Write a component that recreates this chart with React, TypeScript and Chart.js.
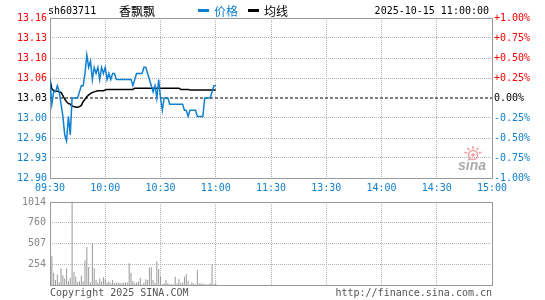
import { useEffect, useRef } from 'react';
import { Chart, registerables } from 'chart.js';
Chart.register(...registerables);

const STOCK_CODE = 'sh603711';
const STOCK_NAME = '香飘飘';
const LEGEND_PRICE = '价格';
const LEGEND_AVG = '均线';
const DATETIME = '2025-10-15 11:00:00';
const COPYRIGHT = 'Copyright 2025 SINA.COM';
const SITE = 'http://finance.sina.com.cn';
const PREV_CLOSE = 13.03;

const TIME_TICKS = [0, 30, 60, 90, 120, 150, 180, 210, 240];
const TIME_LABELS = ['09:30', '10:00', '10:30', '11:00', '11:30', '13:30', '14:00', '14:30', '15:00'];
const PCT_STEPS = [-1, -0.75, -0.5, -0.25, 0, 0.25, 0.5, 0.75, 1];
const PRICE_LABELS = ['12.90', '12.93', '12.96', '13.00', '13.03', '13.06', '13.10', '13.13', '13.16'];
const PCT_LABELS = ['-1.00%', '-0.75%', '-0.50%', '-0.25%', '0.00%', '+0.25%', '+0.50%', '+0.75%', '+1.00%'];
const VOL_MAX = 1014;
const VOL_TICKS = [253.5, 507, 760.5, 1014];
const VOL_LABELS = ['254', '507', '760', '1014'];

const PRICES = [
  13.06, 13.02, 13.04, 13.04, 13.05, 13.04, 13.02, 13.00, 12.97, 12.96,
  13.00, 12.97, 13.03, 13.03, 13.03, 13.03, 13.04, 13.05, 13.05, 13.07,
  13.10, 13.08, 13.09, 13.06, 13.08, 13.07, 13.08, 13.06, 13.08, 13.07,
  13.08, 13.06, 13.07, 13.06, 13.07, 13.07, 13.06, 13.06, 13.06, 13.06,
  13.06, 13.06, 13.06, 13.06, 13.06, 13.05, 13.06, 13.07, 13.07, 13.07,
  13.07, 13.08, 13.08, 13.07, 13.06, 13.05, 13.04, 13.05, 13.03, 13.06,
  13.03, 13.01, 13.03, 13.03, 13.03, 13.02, 13.02, 13.02, 13.02, 13.02,
  13.02, 13.02, 13.02, 13.01, 13.01, 13.00, 13.01, 13.01, 13.01, 13.01,
  13.00, 13.00, 13.00, 13.00, 13.03, 13.03, 13.03, 13.03, 13.04, 13.05,
  13.05,
];

const AVG_PRICES = [
  13.060, 13.045, 13.042, 13.041, 13.041, 13.040, 13.039, 13.034, 13.028, 13.024,
  13.021, 13.020, 13.017, 13.016, 13.015, 13.015, 13.016, 13.018, 13.024, 13.028,
  13.032, 13.035, 13.037, 13.039, 13.040, 13.041, 13.042, 13.042, 13.042, 13.042,
  13.043, 13.044, 13.044, 13.044, 13.044, 13.044, 13.044, 13.044, 13.044, 13.044,
  13.044, 13.044, 13.044, 13.044, 13.044, 13.044, 13.046, 13.046, 13.046, 13.046,
  13.046, 13.046, 13.046, 13.046, 13.046, 13.046, 13.046, 13.046, 13.046, 13.046,
  13.046, 13.046, 13.046, 13.046, 13.046, 13.046, 13.046, 13.046, 13.046, 13.046,
  13.046, 13.044, 13.044, 13.044, 13.044, 13.044, 13.043, 13.043, 13.043, 13.043,
  13.043, 13.043, 13.043, 13.043, 13.043, 13.043, 13.043, 13.043, 13.043, 13.043,
  13.043,
];

const VOLUMES = [
  30, 350, 150, 60, 125, 35, 205, 120, 80, 205,
  50, 90, 1014, 160, 100, 35, 45, 115, 45, 300,
  465, 220, 30, 505, 205, 60, 30, 80, 45, 95,
  70, 30, 45, 25, 60, 25, 30, 30, 25, 20,
  30, 30, 30, 265, 150, 50, 20, 30, 40, 90,
  10, 30, 70, 60, 210, 220, 60, 20, 290, 195,
  100, 10, 20, 60, 20, 10, 10, 5, 100, 20,
  70, 20, 30, 100, 130, 50, 10, 30, 20, 10,
  180, 20, 20, 15, 10, 10, 10, 20, 250, 10,
  20,
];

const MONO = "'DejaVu Sans Mono', 'Liberation Mono', monospace";
const CJK = "'Noto Sans CJK SC', sans-serif";
const BLUE = '#1080d0';
const RED = '#ff0000';
const GRID = '#b4b4b4';
const FRAME = '#999999';
const VOL_GRAY = '#999999';

const LOW = PREV_CLOSE * (1 + PCT_STEPS[0] / 100);
const HIGH = PREV_CLOSE * (1 + PCT_STEPS[PCT_STEPS.length - 1] / 100);

const framePlugin = {
  id: 'frame',
  beforeDatasetsDraw(chart: any) {
    const { ctx, chartArea: a } = chart;
    ctx.save();
    ctx.strokeStyle = FRAME;
    ctx.lineWidth = 1;
    ctx.strokeRect(a.left + 0.5, a.top + 0.5, a.right - a.left, a.bottom - a.top);
    ctx.restore();
  },
};

const headerPlugin = {
  id: 'header',
  afterDraw(chart: any) {
    const ctx = chart.ctx;
    ctx.save();
    ctx.textBaseline = 'middle';
    ctx.fillStyle = '#000';
    ctx.font = `10px ${MONO}`;
    ctx.textAlign = 'left';
    ctx.fillText(STOCK_CODE, 48, 11);
    ctx.font = `12px ${CJK}`;
    ctx.fillText(STOCK_NAME, 119, 11);
    ctx.fillStyle = BLUE;
    ctx.fillRect(198, 9, 11, 3);
    ctx.fillText(LEGEND_PRICE, 214, 11);
    ctx.fillStyle = '#000';
    ctx.fillRect(248, 9, 11, 3);
    ctx.fillText(LEGEND_AVG, 264, 11);
    ctx.font = `10px ${MONO}`;
    ctx.textAlign = 'right';
    ctx.fillText(DATETIME, 489, 11);
    ctx.restore();
  },
};

const watermarkPlugin = {
  id: 'watermark',
  beforeDatasetsDraw(chart: any) {
    const ctx = chart.ctx;
    ctx.save();
    ctx.strokeStyle = 'rgba(225,80,80,0.55)';
    ctx.fillStyle = 'rgba(225,80,80,0.55)';
    ctx.lineWidth = 1.5;
    ctx.beginPath();
    ctx.arc(473, 155, 4.5, 0, Math.PI * 2);
    ctx.stroke();
    ctx.beginPath();
    ctx.arc(473, 155, 1.8, 0, Math.PI * 2);
    ctx.fill();
    for (let k = 0; k < 5; k++) {
      const ang = Math.PI * (1.1 + k * 0.2);
      ctx.beginPath();
      ctx.moveTo(473 + Math.cos(ang) * 6, 155 + Math.sin(ang) * 6);
      ctx.lineTo(473 + Math.cos(ang) * 9, 155 + Math.sin(ang) * 9);
      ctx.stroke();
    }
    ctx.fillStyle = 'rgba(150,150,150,0.8)';
    ctx.font = "italic bold 14px 'Liberation Sans', Arial, sans-serif";
    ctx.textBaseline = 'alphabetic';
    ctx.fillText('sina', 458, 170);
    ctx.restore();
  },
};

const footerPlugin = {
  id: 'footer',
  afterDraw(chart: any) {
    const ctx = chart.ctx;
    ctx.save();
    ctx.font = `10px ${MONO}`;
    ctx.fillStyle = '#555';
    ctx.textBaseline = 'middle';
    ctx.textAlign = 'left';
    ctx.fillText(COPYRIGHT, 50, 101);
    ctx.textAlign = 'right';
    ctx.fillText(SITE, 492, 101);
    ctx.restore();
  },
};

export default function App() {
  const priceRef = useRef<HTMLCanvasElement>(null);
  const volRef = useRef<HTMLCanvasElement>(null);

  useEffect(() => {
    const font = { family: MONO, size: 10 };
    const priceChart = new Chart(priceRef.current as HTMLCanvasElement, {
      type: 'line',
      data: {
        datasets: [
          {
            label: '昨收',
            data: [{ x: 0, y: PREV_CLOSE }, { x: 240, y: PREV_CLOSE }],
            borderColor: '#000',
            borderWidth: 1,
            borderDash: [3, 2],
            pointRadius: 0,
            order: 3,
          },
          {
            label: LEGEND_AVG,
            data: AVG_PRICES.map((v, i) => ({ x: i, y: v })),
            borderColor: '#000',
            borderWidth: 1.5,
            pointRadius: 0,
            tension: 0,
            order: 2,
          },
          {
            label: LEGEND_PRICE,
            data: PRICES.map((v, i) => ({ x: i, y: v })),
            borderColor: BLUE,
            borderWidth: 1.5,
            pointRadius: 0,
            tension: 0,
            order: 1,
          },
        ],
      },
      options: {
        animation: false,
        responsive: false,
        devicePixelRatio: 1,
        layout: { padding: { top: 18, left: 0, right: 0, bottom: 0 } },
        plugins: { legend: { display: false }, tooltip: { enabled: false } },
        scales: {
          x: {
            type: 'linear',
            min: 0,
            max: 240,
            offset: false,
            afterBuildTicks: (s: any) => {
              s.ticks = TIME_TICKS.map((v) => ({ value: v }));
            },
            afterFit: (s: any) => {
              s.height = 22;
            },
            ticks: {
              autoSkip: false,
              maxRotation: 0,
              padding: 4,
              color: BLUE,
              font,
              callback: (_v: any, i: number) => TIME_LABELS[i],
            },
            grid: { color: GRID, drawTicks: false, lineWidth: 1 },
            border: { display: false, dash: [1, 1] },
          },
          y: {
            type: 'linear',
            position: 'left',
            min: LOW,
            max: HIGH,
            bounds: 'data',
            afterBuildTicks: (s: any) => {
              s.ticks = PCT_STEPS.map((p) => ({ value: PREV_CLOSE * (1 + p / 100) }));
            },
            afterFit: (s: any) => {
              s.width = 50;
            },
            ticks: {
              padding: 3,
              font,
              color: (c: any) => (c.index < 4 ? BLUE : c.index === 4 ? '#000' : RED),
              callback: (_v: any, i: number) => PRICE_LABELS[i],
            },
            grid: {
              drawTicks: false,
              lineWidth: 1,
              color: (c: any) => (c.index === 4 ? 'rgba(0,0,0,0)' : GRID),
            },
            border: { display: false, dash: [1, 1] },
          },
          y2: {
            type: 'linear',
            position: 'right',
            min: LOW,
            max: HIGH,
            bounds: 'data',
            afterBuildTicks: (s: any) => {
              s.ticks = PCT_STEPS.map((p) => ({ value: PREV_CLOSE * (1 + p / 100) }));
            },
            afterFit: (s: any) => {
              s.width = 53;
            },
            ticks: {
              padding: 2,
              font,
              color: (c: any) => (c.index < 4 ? BLUE : c.index === 4 ? '#000' : RED),
              callback: (_v: any, i: number) => PCT_LABELS[i],
            },
            grid: { display: false, drawTicks: false },
            border: { display: false },
          },
        },
      } as any,
      plugins: [framePlugin, watermarkPlugin, headerPlugin],
    });

    const volChart = new Chart(volRef.current as HTMLCanvasElement, {
      type: 'bar',
      data: {
        datasets: [
          {
            label: '成交量',
            data: VOLUMES.map((v, i) => ({ x: i, y: v })),
            backgroundColor: VOL_GRAY,
            borderWidth: 0,
            barThickness: 1,
            inflateAmount: 0,
          },
        ],
      },
      options: {
        animation: false,
        responsive: false,
        devicePixelRatio: 1,
        layout: { padding: { top: 9, left: 0, right: 53, bottom: 0 } },
        plugins: { legend: { display: false }, tooltip: { enabled: false } },
        scales: {
          x: {
            type: 'linear',
            min: 0,
            max: 240,
            offset: false,
            afterBuildTicks: (s: any) => {
              s.ticks = TIME_TICKS.map((v) => ({ value: v }));
            },
            afterFit: (s: any) => {
              s.height = 15;
            },
            ticks: { display: false },
            grid: { color: GRID, drawTicks: false, lineWidth: 1, offset: false },
            border: { display: false, dash: [1, 1] },
          },
          y: {
            type: 'linear',
            position: 'left',
            min: 0,
            max: VOL_MAX,
            bounds: 'data',
            afterBuildTicks: (s: any) => {
              s.ticks = VOL_TICKS.map((v) => ({ value: v }));
            },
            afterFit: (s: any) => {
              s.width = 50;
            },
            ticks: {
              padding: 4,
              font,
              color: '#888',
              callback: (_v: any, i: number) => VOL_LABELS[i],
            },
            grid: { color: GRID, drawTicks: false, lineWidth: 1 },
            border: { display: false, dash: [1, 1] },
          },
        },
      } as any,
      plugins: [framePlugin, footerPlugin],
    });

    return () => {
      priceChart.destroy();
      volChart.destroy();
    };
  }, []);

  return (
    <div style={{ position: 'absolute', left: 0, top: 0, width: 545, height: 300, background: '#fff' }}>
      <canvas
        ref={priceRef}
        width={545}
        height={200}
        style={{ position: 'absolute', left: 0, top: 0, width: 545, height: 200 }}
      />
      <canvas
        ref={volRef}
        width={545}
        height={108}
        style={{ position: 'absolute', left: 0, top: 192, width: 545, height: 108 }}
      />
    </div>
  );
}
